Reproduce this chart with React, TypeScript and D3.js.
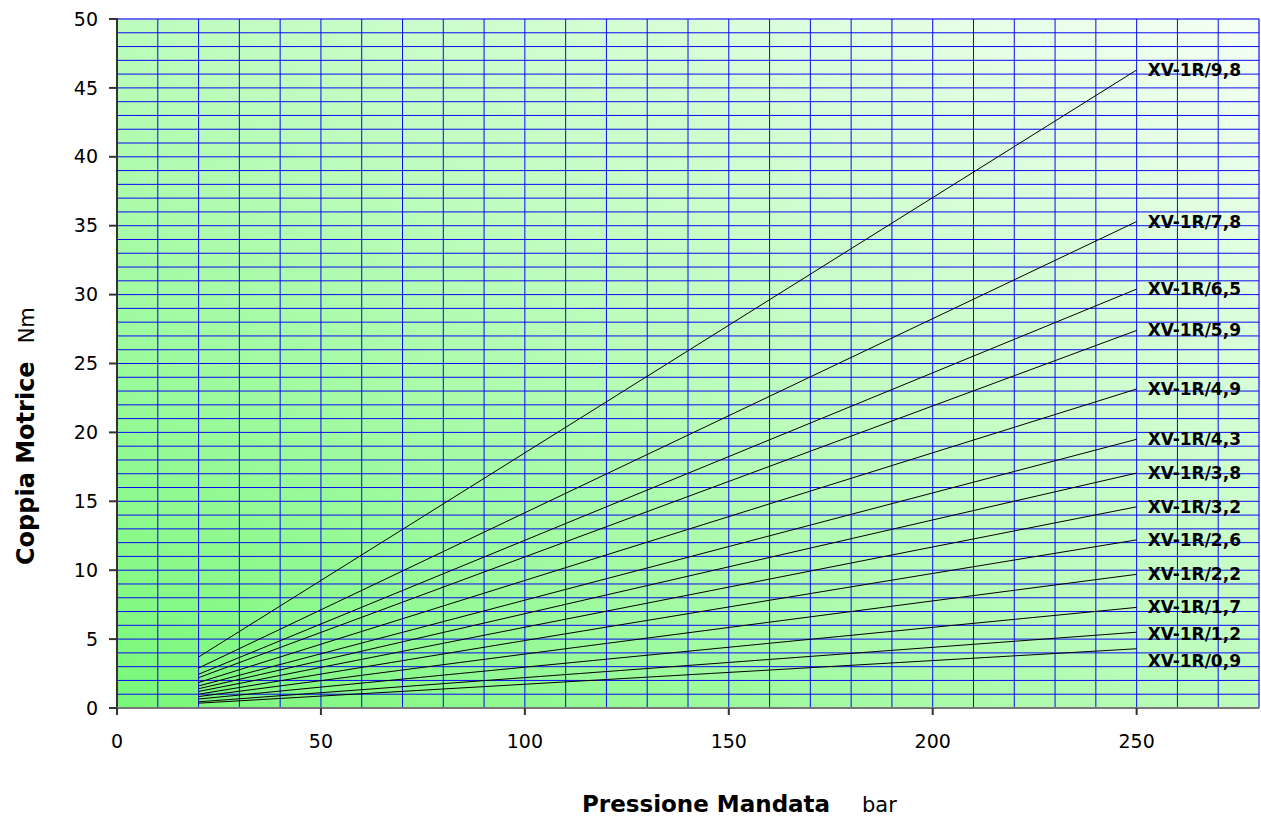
import React from "react";
import * as d3 from "d3";

const seriesNames = [
  "XV-1R/9,8", "XV-1R/7,8", "XV-1R/6,5", "XV-1R/5,9", "XV-1R/4,9", "XV-1R/4,3",
  "XV-1R/3,8", "XV-1R/3,2", "XV-1R/2,6", "XV-1R/2,2", "XV-1R/1,7", "XV-1R/1,2", "XV-1R/0,9",
];
const pressures = [20, 250];
const torqueAt20 = [3.7, 2.9, 2.45, 2.2, 1.85, 1.6, 1.4, 1.2, 1.0, 0.83, 0.65, 0.45, 0.35];
const torqueAt250 = [46.3, 35.3, 30.4, 27.4, 23.15, 19.5, 17.05, 14.6, 12.2, 9.7, 7.3, 5.5, 4.3];
const xTicks = [0, 50, 100, 150, 200, 250];
const yTicks = [0, 5, 10, 15, 20, 25, 30, 35, 40, 45, 50];

const W = 1261, H = 818;
const left = 117, right = 1259, top = 19, bottom = 708;
const font = "'DejaVu Sans', Verdana, sans-serif";

export default function App() {
  const x = d3.scaleLinear().domain([0, 280]).range([left, right]);
  const y = d3.scaleLinear().domain([0, 50]).range([bottom, top]);
  const line = d3.line<[number, number]>().x((d) => x(d[0])).y((d) => y(d[1]));
  const hGrid = d3.range(1, 51);
  const vGrid = d3.range(10, 290, 10);

  const labelY: number[] = [];
  seriesNames.forEach((_, i) => {
    let ly = y(torqueAt250[i]);
    if (i > 0 && ly - labelY[i - 1] < 27) ly = labelY[i - 1] + 27;
    labelY.push(ly);
  });

  return (
    <svg width={W} height={H} style={{ position: "absolute", left: 0, top: 0, fontFamily: font }}>
      <defs>
        <linearGradient id="bg" x1="0" y1="1" x2="1" y2="0">
          <stop offset="0" stopColor="#78f878" />
          <stop offset="0.5" stopColor="#bcfcbc" />
          <stop offset="1" stopColor="#f4fff4" />
        </linearGradient>
      </defs>
      <rect x={left} y={top} width={right - left} height={bottom - top} fill="url(#bg)" stroke="#c8c8f0" strokeWidth={1.5} />
      {hGrid.map((v) => (
        <line key={"h" + v} x1={left} x2={right} y1={y(v)} y2={y(v)} stroke="#0a0af5" strokeWidth={1} />
      ))}
      {vGrid.map((v) => (
        <line key={"v" + v} x1={x(v)} x2={x(v)} y1={top} y2={bottom} stroke="#0a0af5" strokeWidth={1} />
      ))}
      {seriesNames.map((name, i) => (
        <path
          key={name}
          d={line(pressures.map((p, j) => [p, j === 0 ? torqueAt20[i] : torqueAt250[i]]) as [number, number][]) || ""}
          fill="none"
          stroke="#000"
          strokeWidth={1}
        />
      ))}
      {seriesNames.map((name, i) => (
        <text key={"l" + name} x={x(250) + 11} y={labelY[i]} dy="0.35em" fontSize={17} fontWeight="bold" fill="#000">
          {name}
        </text>
      ))}
      <line x1={left} x2={left} y1={top - 1} y2={bottom} stroke="#333" strokeWidth={2} />
      <line x1={left} x2={right} y1={bottom} y2={bottom} stroke="#777" strokeWidth={2} />
      {yTicks.map((v) => (
        <g key={"yt" + v}>
          <line x1={left - 8} x2={left} y1={y(v)} y2={y(v)} stroke="#333" strokeWidth={2} />
          <text x={left - 19} y={y(v)} dy="0.35em" textAnchor="end" fontSize={19} fill="#000">
            {v}
          </text>
        </g>
      ))}
      {xTicks.map((v) => (
        <g key={"xt" + v}>
          <line x1={x(v)} x2={x(v)} y1={bottom} y2={bottom + 7} stroke="#333" strokeWidth={2} />
          <text x={x(v)} y={748} textAnchor="middle" fontSize={19} fill="#000">
            {v}
          </text>
        </g>
      ))}
      <text x={582} y={812} fontSize={23} fill="#000">
        <tspan fontWeight="bold">Pressione Mandata</tspan>
        <tspan x={862} fontSize={21}>bar</tspan>
      </text>
      <text transform="translate(34,565) rotate(-90)" fontSize={24} fill="#000">
        <tspan fontWeight="bold">Coppia Motrice</tspan>
        <tspan dx={18} fontSize={21}>Nm</tspan>
      </text>
    </svg>
  );
}
